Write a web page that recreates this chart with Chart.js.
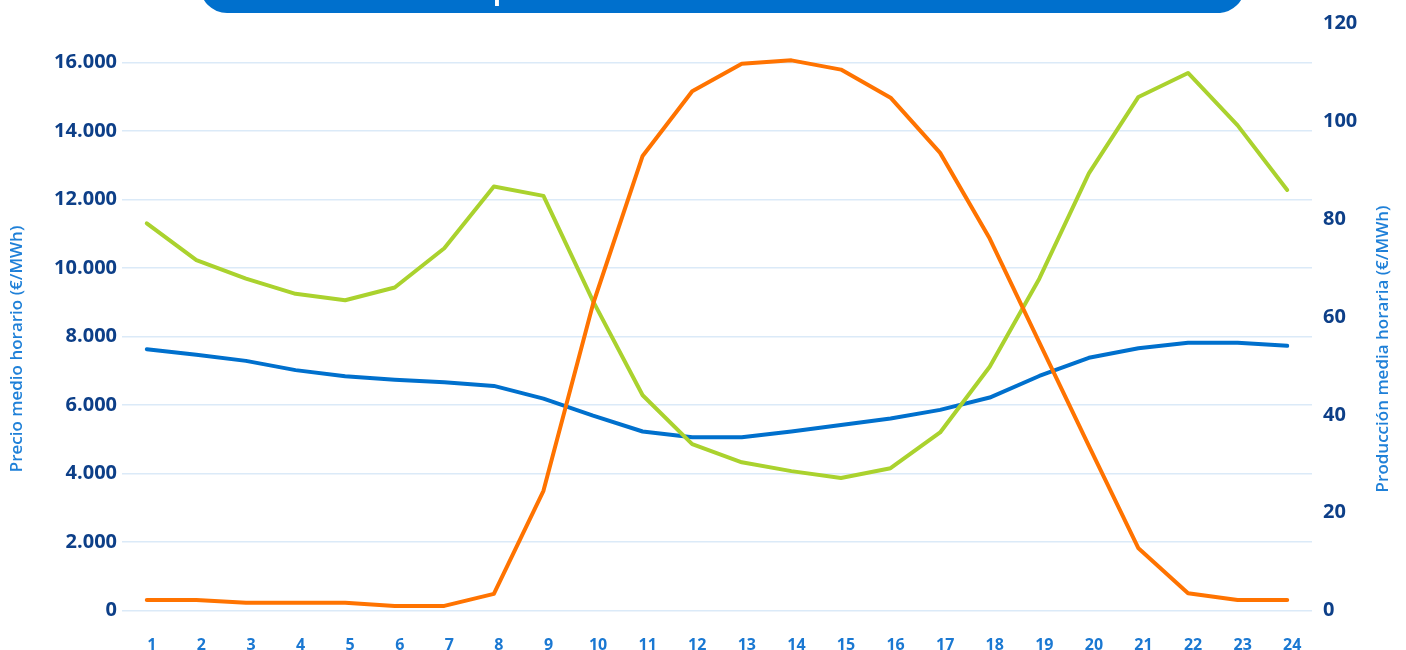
<!DOCTYPE html>
<html lang="es">
<head>
<meta charset="utf-8">
<title>Precio y producción media horaria</title>
<script src="https://cdn.jsdelivr.net/npm/chart.js@4.4.1/dist/chart.umd.min.js"></script>
<style>
  html, body { margin: 0; padding: 0; background: #ffffff; overflow: hidden; }
  #wrap { position: relative; width: 1406px; height: 650px; }
  #banner {
    position: absolute; left: 200px; top: -47px; width: 1045px; height: 60px;
    background: #0070cd; border-radius: 27px; overflow: hidden;
  }
  .bt {
    position: absolute; top: 22px; line-height: 30px; white-space: nowrap;
    font-family: "Open Sans", sans-serif; font-weight: 700; font-size: 26px; color: #ffffff;
  }
  #bt1 { right: calc(1045px - 287px); }
  #bt2 { left: 293px; }
  canvas { position: absolute; left: 0; top: 0; }
</style>
</head>
<body>
<div id="wrap">
  <canvas id="chart" width="1406" height="650"></canvas>
  <div id="banner"><span class="bt" id="bt1">Precio medio horario vs</span><span class="bt" id="bt2">producción media horaria</span></div>
</div>
<script>
// Hours of the day
const hours = ['1','2','3','4','5','6','7','8','9','10','11','12','13','14','15','16','17','18','19','20','21','22','23','24'];

// Solar production per hour (left axis)
const solar = [310, 310, 230, 230, 230, 140, 140, 490, 3500, 8950, 13270, 15160, 15960, 16060, 15790, 14970, 13360, 10860, 7830, 4810, 1820, 510, 310, 310];

// Wind production per hour (left axis)
const eolica = [7630, 7470, 7290, 7020, 6840, 6740, 6670, 6560, 6190, 5690, 5230, 5060, 5060, 5230, 5420, 5610, 5860, 6220, 6850, 7380, 7660, 7820, 7820, 7730];

// Average hourly price (right axis)
const precio = [79.1, 71.6, 67.8, 64.7, 63.4, 66.0, 74.0, 86.6, 84.7, 63.2, 44.0, 34.0, 30.3, 28.5, 27.1, 29.1, 36.4, 49.8, 67.8, 89.3, 104.9, 109.8, 99.1, 85.9];

// Tick values of both vertical axes
const leftTicks = [0, 2000, 4000, 6000, 8000, 10000, 12000, 14000, 16000];
const rightTicks = [0, 20, 40, 60, 80, 100, 120];

// Axis ranges
const leftMax = 17150;
const rightMax = 120;

const tickColor = '#0d3f88';
const titleColor = '#1f80d8';
const gridColor = '#dbeaf8';

function thousands(v) {
  return String(Math.round(v)).replace(/\B(?=(\d{3})+(?!\d))/g, '.');
}

// Vertical axis titles, both reading bottom to top
const axisTitles = {
  id: 'axisTitles',
  afterDraw(chart) {
    const ctx = chart.ctx;
    ctx.save();
    ctx.fillStyle = titleColor;
    ctx.font = '600 17px "Open Sans", sans-serif';
    ctx.textAlign = 'center';
    ctx.textBaseline = 'middle';
    ctx.save();
    ctx.translate(17, 349);
    ctx.rotate(-Math.PI / 2);
    ctx.fillText('Precio medio horario (€/MWh)', 0, 0);
    ctx.restore();
    ctx.save();
    ctx.translate(1383, 349);
    ctx.rotate(-Math.PI / 2);
    ctx.fillText('Producción media horaria (€/MWh)', 0, 0);
    ctx.restore();
    ctx.restore();
  }
};

new Chart(document.getElementById('chart'), {
  type: 'line',
  data: {
    labels: hours,
    datasets: [
      { label: 'Solar', data: solar, yAxisID: 'y', borderColor: '#ff7300', order: 1 },
      { label: 'Precio', data: precio, yAxisID: 'y1', borderColor: '#aad22e', order: 2 },
      { label: 'Eólica', data: eolica, yAxisID: 'y', borderColor: '#0070cd', order: 3 }
    ]
  },
  options: {
    responsive: false,
    animation: false,
    layout: { padding: { top: 20.6, bottom: 0, left: 0, right: 0 } },
    elements: {
      line: { borderWidth: 4, tension: 0, borderJoinStyle: 'round', borderCapStyle: 'round', fill: false },
      point: { radius: 0, hoverRadius: 0 }
    },
    plugins: { legend: { display: false }, tooltip: { enabled: false } },
    scales: {
      x: {
        offset: true,
        grid: { display: false, drawTicks: false },
        border: { display: false },
        ticks: {
          padding: 25,
          labelOffset: 5,
          maxRotation: 0,
          autoSkip: false,
          color: '#1a78d2',
          font: { family: '"Open Sans", sans-serif', weight: '700', size: 16 }
        },
        afterFit(scale) { scale.height = 39.3; }
      },
      y: {
        position: 'left',
        min: 0,
        max: leftMax,
        grid: { color: gridColor, lineWidth: 1.5, drawTicks: false },
        border: { display: false },
        afterBuildTicks(scale) { scale.ticks = leftTicks.map(v => ({ value: v })); },
        ticks: {
          padding: 5,
          color: tickColor,
          font: { family: '"Open Sans", sans-serif', weight: '700', size: 20 },
          callback: (v) => thousands(v)
        },
        afterFit(scale) { scale.width = 122; }
      },
      y1: {
        position: 'right',
        min: 0,
        max: rightMax,
        grid: { drawOnChartArea: false, drawTicks: false },
        border: { display: false },
        afterBuildTicks(scale) { scale.ticks = rightTicks.map(v => ({ value: v })); },
        ticks: {
          padding: 11,
          color: tickColor,
          font: { family: '"Open Sans", sans-serif', weight: '700', size: 20 }
        },
        afterFit(scale) { scale.width = 94; }
      }
    }
  },
  plugins: [axisTitles]
});
</script>
</body>
</html>
